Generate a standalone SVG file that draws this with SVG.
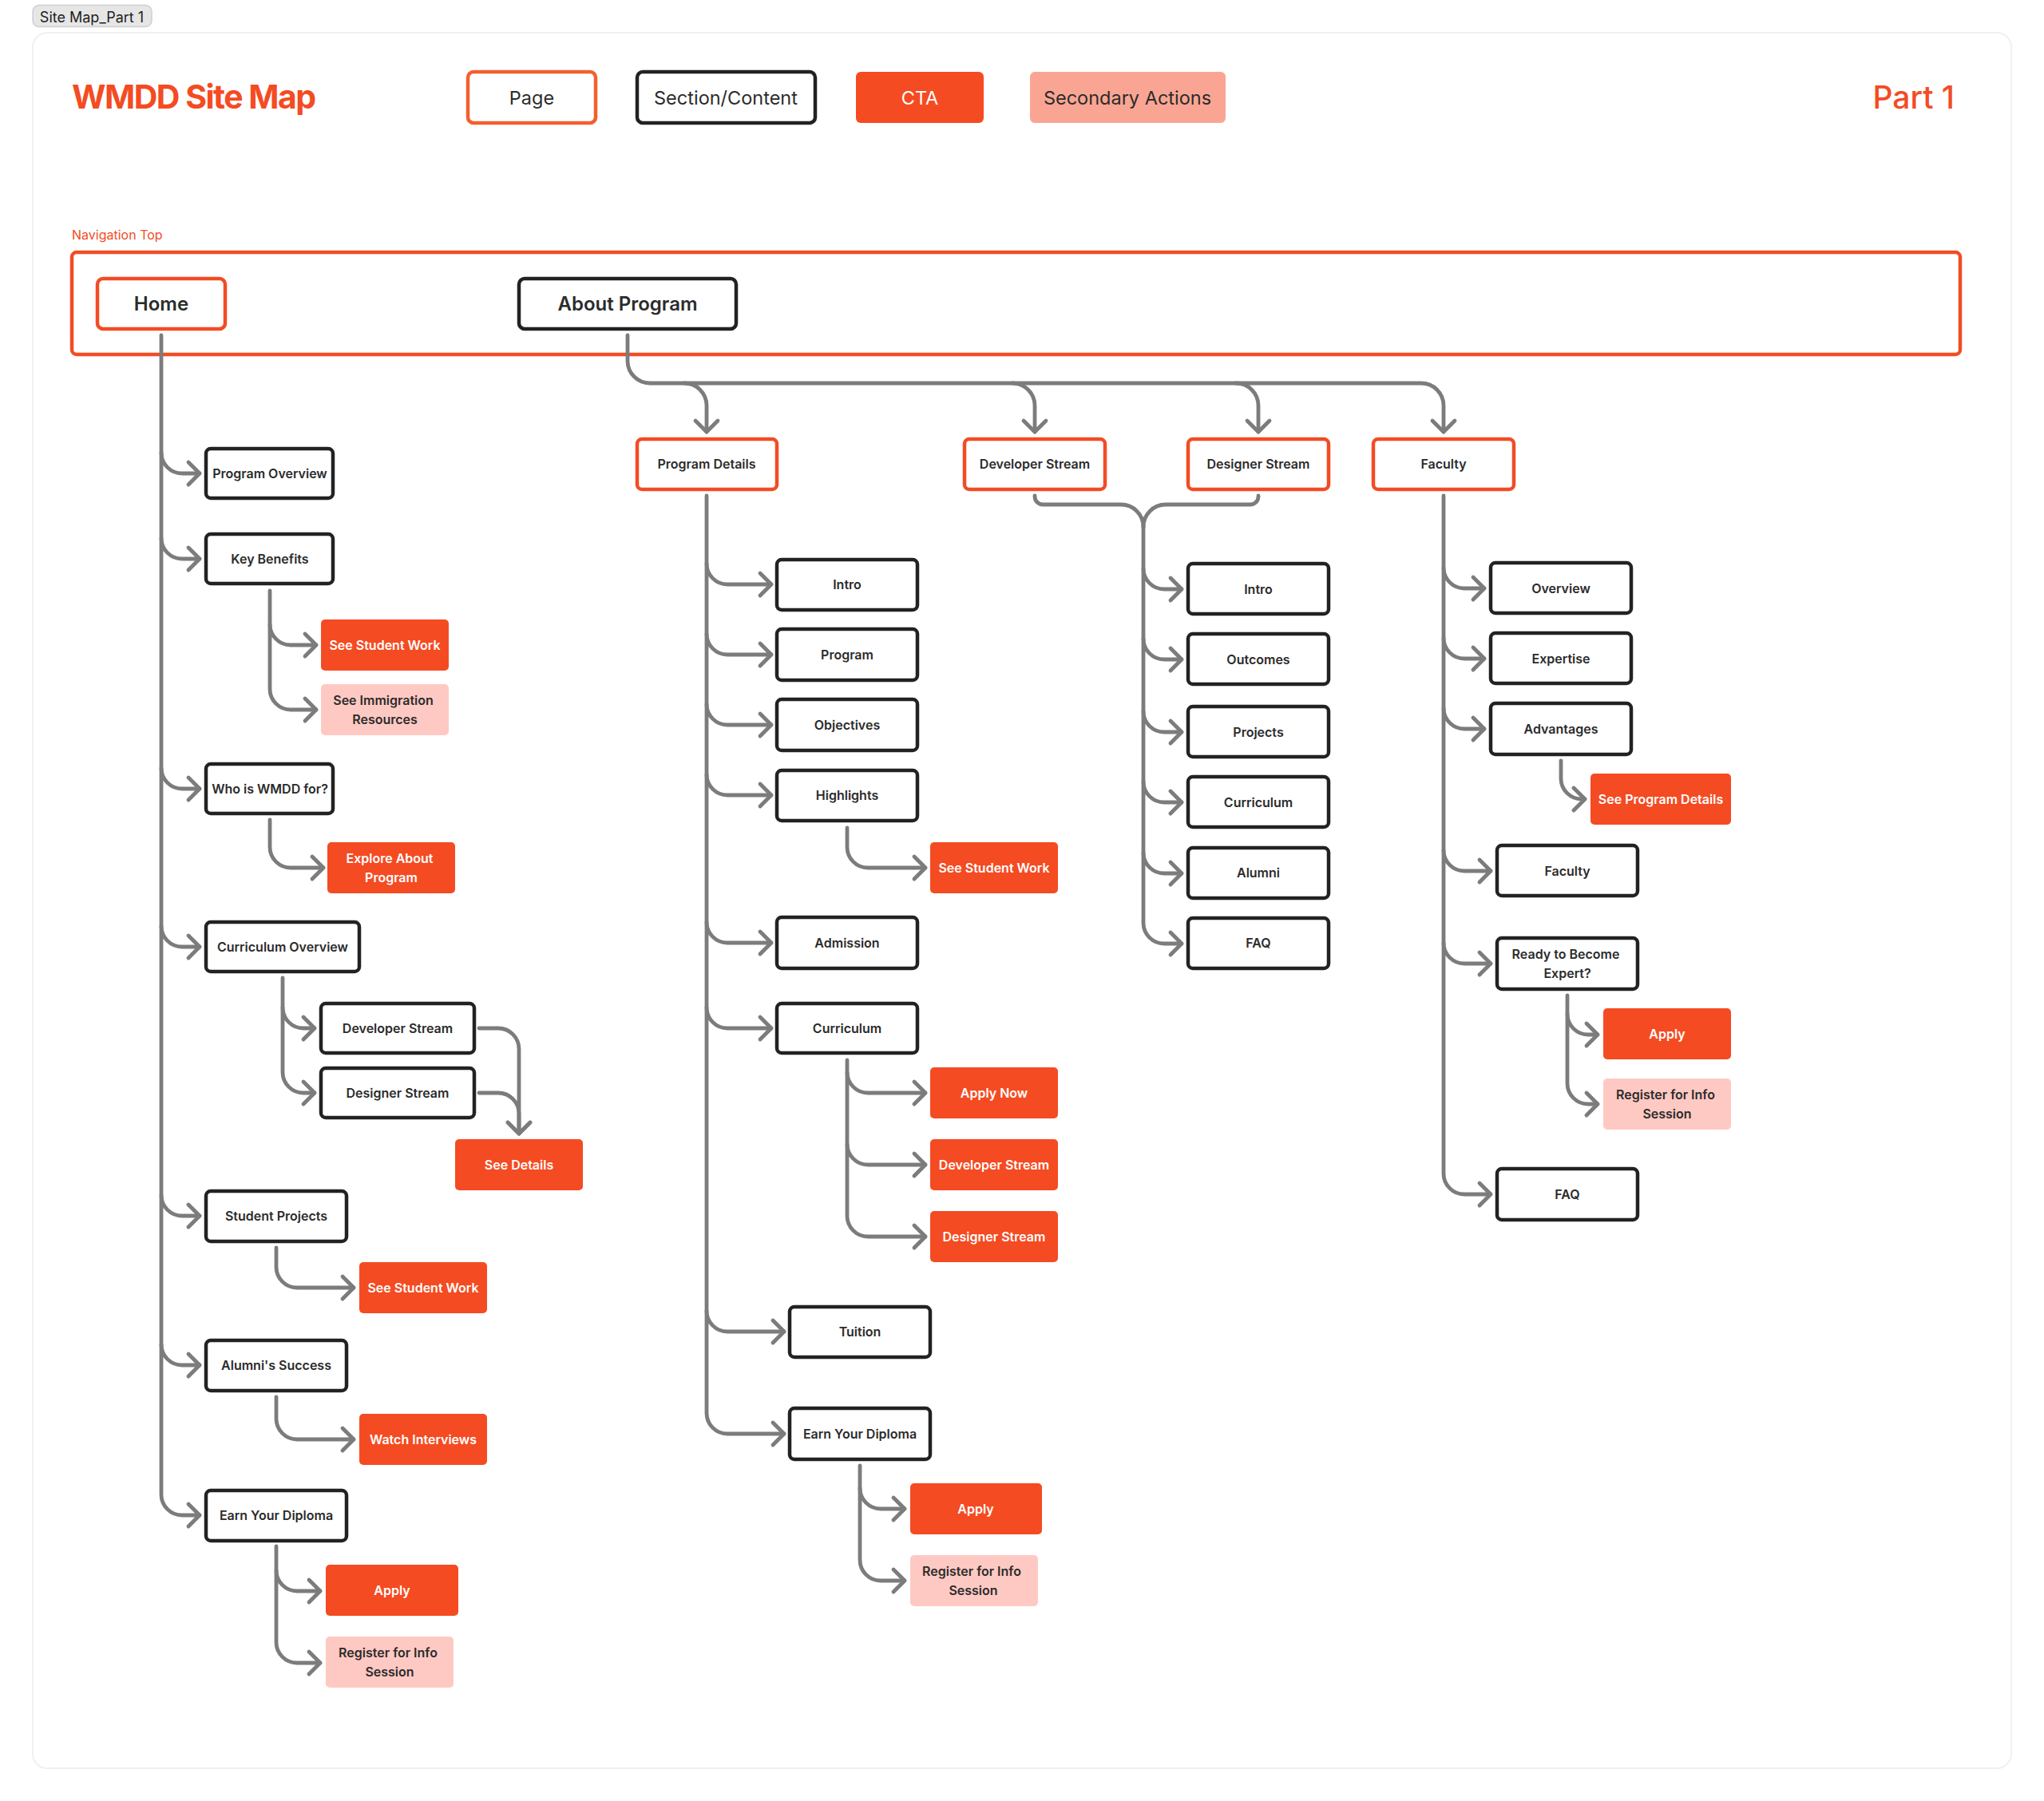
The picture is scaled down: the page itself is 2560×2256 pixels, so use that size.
<svg xmlns="http://www.w3.org/2000/svg" width="2560" height="2256" viewBox="0 0 2560 2256">
<style>
text{font-family:Inter,"Liberation Sans",sans-serif;text-anchor:middle;dominant-baseline:central}
.page,.sec{fill:#fff;stroke-width:4.5}
.page{stroke:#f24c24}
.sec{stroke:#222}
.cta{fill:#f44b22}
.sa{fill:#faa593}
.ls{fill:#ffc9c3}
.t{font-size:16px;font-weight:600;fill:#2b2b2b}
.tw{font-size:16px;font-weight:600;fill:#fff}
.lg{font-size:23.5px;font-weight:400;fill:#2b2b2b}
.nav{font-size:24px;font-weight:600;fill:#2b2b2b}
.c path{fill:none;stroke:#7c7c7c;stroke-width:4.8;stroke-linecap:round;stroke-linejoin:round}
.c path.a{marker-end:url(#ah)}
</style>
<defs>
<marker id="ah" markerUnits="userSpaceOnUse" markerWidth="40" markerHeight="40" refX="20" refY="20" orient="auto" overflow="visible"><path d="M6,6 L20,20 L6,34" fill="none" stroke="#7c7c7c" stroke-width="4.8" stroke-linecap="round" stroke-linejoin="round"/></marker>
</defs>
<rect width="2560" height="2256" fill="#fff"/>
<g id="frame"><rect x="41" y="41" width="2478" height="2174" rx="18" fill="#fff" stroke="#f0f0f0" stroke-width="2"/></g>
<g id="tab"><rect x="41" y="6.500" width="149" height="27" rx="8" fill="#e6e6e6" stroke="#cfcfcf" stroke-width="1.500"/><text x="115" y="21" style="font-size:18px;font-weight:400;fill:#1e1e1e">Site Map_Part 1</text></g>
<g id="title"><text x="90" y="121" style="text-anchor:start;font-size:41px;font-weight:700;fill:#f44b22;letter-spacing:-1.500px">WMDD Site Map</text></g>
<g id="part"><text x="2448" y="121" style="text-anchor:end;font-size:39px;font-weight:500;fill:#f24c24">Part 1</text></g>
<g id="legend-page"><rect class="page" x="586" y="90" width="160" height="64" rx="7" style="stroke:#f2602e"/><text class="lg" x="666" y="122">Page</text></g>
<g id="legend-section"><rect class="sec" x="798" y="90" width="223" height="64" rx="7"/><text class="lg" x="909" y="122">Section/Content</text></g>
<g id="legend-cta"><rect class="cta" x="1072" y="90" width="160" height="64" rx="6"/><text class="lg" x="1152" y="122" style="fill:#fff">CTA</text></g>
<g id="legend-secondary"><rect class="sa" x="1290" y="90" width="245" height="64" rx="6"/><text class="lg" x="1412" y="122">Secondary Actions</text></g>
<g id="nav-label"><text x="90" y="294" style="text-anchor:start;font-size:16px;font-weight:400;fill:#f24c24">Navigation Top</text></g>
<g id="nav-top"><rect x="90" y="316" width="2365" height="128" rx="6" fill="#fff" stroke="#f24c24" stroke-width="4.500"/></g>
<g id="home"><rect class="page" x="122" y="349" width="160" height="63" rx="7"/><text class="nav" x="202" y="380">Home</text></g>
<g id="about"><rect class="sec" x="650" y="349" width="272" height="63" rx="7"/><text class="nav" x="786" y="380">About Program</text></g>
<g class="c" id="connectors">
<path d="M202 420V1872A26 26 0 0 0 228 1898H250" class="a"/>
<path d="M202 567A26 26 0 0 0 228 593H250" class="a"/>
<path d="M202 674A26 26 0 0 0 228 700H250" class="a"/>
<path d="M202 962A26 26 0 0 0 228 988H250" class="a"/>
<path d="M202 1160A26 26 0 0 0 228 1186H250" class="a"/>
<path d="M202 1497A26 26 0 0 0 228 1523H250" class="a"/>
<path d="M202 1684A26 26 0 0 0 228 1710H250" class="a"/>
<path d="M786 420V452A28 28 0 0 0 814 480H1780A28 28 0 0 1 1808 508V541" class="a"/>
<path d="M857 480A28 28 0 0 1 885 508V541" class="a"/>
<path d="M1268 480A28 28 0 0 1 1296 508V541" class="a"/>
<path d="M1548 480A28 28 0 0 1 1576 508V541" class="a"/>
<path d="M338 740V863A26 26 0 0 0 364 889H396" class="a"/>
<path d="M338 782A26 26 0 0 0 364 808H396" class="a"/>
<path d="M338 1027V1061A26 26 0 0 0 364 1087H405" class="a"/>
<path d="M354 1225V1343A26 26 0 0 0 380 1369H394" class="a"/>
<path d="M354 1262A26 26 0 0 0 380 1288H394" class="a"/>
<path d="M600 1288H624A26 26 0 0 1 650 1314V1420" class="a"/>
<path d="M600 1369H624A26 26 0 0 1 650 1395V1420" class="a"/>
<path d="M346 1563V1587A26 26 0 0 0 372 1613H443" class="a"/>
<path d="M346 1750V1777A26 26 0 0 0 372 1803H443" class="a"/>
<path d="M346 1937V2057A26 26 0 0 0 372 2083H401" class="a"/>
<path d="M346 1967A26 26 0 0 0 372 1993H401" class="a"/>
<path d="M885 621V1770A26 26 0 0 0 911 1796H982" class="a"/>
<path d="M885 706A26 26 0 0 0 911 732H966" class="a"/>
<path d="M885 794A26 26 0 0 0 911 820H966" class="a"/>
<path d="M885 882A26 26 0 0 0 911 908H966" class="a"/>
<path d="M885 970A26 26 0 0 0 911 996H966" class="a"/>
<path d="M885 1155A26 26 0 0 0 911 1181H966" class="a"/>
<path d="M885 1262A26 26 0 0 0 911 1288H966" class="a"/>
<path d="M885 1642A26 26 0 0 0 911 1668H982" class="a"/>
<path d="M1061 1037V1061A26 26 0 0 0 1087 1087H1159" class="a"/>
<path d="M1061 1328V1523A26 26 0 0 0 1087 1549H1159" class="a"/>
<path d="M1061 1343A26 26 0 0 0 1087 1369H1159" class="a"/>
<path d="M1061 1433A26 26 0 0 0 1087 1459H1159" class="a"/>
<path d="M1077 1836V1954A26 26 0 0 0 1103 1980H1133" class="a"/>
<path d="M1077 1864A26 26 0 0 0 1103 1890H1133" class="a"/>
<path d="M1296 621V622A10 10 0 0 0 1306 632H1404A28 28 0 0 1 1432 660"/>
<path d="M1576 621V622A10 10 0 0 1 1566 632H1460A28 28 0 0 0 1432 660"/>
<path d="M1432 660V1156A26 26 0 0 0 1458 1182H1480" class="a"/>
<path d="M1432 712A26 26 0 0 0 1458 738H1480" class="a"/>
<path d="M1432 800A26 26 0 0 0 1458 826H1480" class="a"/>
<path d="M1432 891A26 26 0 0 0 1458 917H1480" class="a"/>
<path d="M1432 979A26 26 0 0 0 1458 1005H1480" class="a"/>
<path d="M1432 1068A26 26 0 0 0 1458 1094H1480" class="a"/>
<path d="M1808 621V1470A26 26 0 0 0 1834 1496H1867" class="a"/>
<path d="M1808 711A26 26 0 0 0 1834 737H1859" class="a"/>
<path d="M1808 799A26 26 0 0 0 1834 825H1859" class="a"/>
<path d="M1808 887A26 26 0 0 0 1834 913H1859" class="a"/>
<path d="M1808 1065A26 26 0 0 0 1834 1091H1867" class="a"/>
<path d="M1808 1181A26 26 0 0 0 1834 1207H1867" class="a"/>
<path d="M1955 953V975A26 26 0 0 0 1981 1001H1985" class="a"/>
<path d="M1963 1247V1357A26 26 0 0 0 1989 1383H2001" class="a"/>
<path d="M1963 1270A26 26 0 0 0 1989 1296H2001" class="a"/>
</g>
<g id="n-program-overview"><rect class="sec" x="258" y="562" width="159" height="62" rx="6"/><text class="t" x="338" y="593">Program Overview</text></g>
<g id="n-key-benefits"><rect class="sec" x="258" y="669" width="159" height="62" rx="6"/><text class="t" x="338" y="700">Key Benefits</text></g>
<g id="n-see-student-work-1"><rect class="cta" x="402" y="776" width="160" height="64" rx="5"/><text class="tw" x="482" y="808">See Student Work</text></g>
<g id="n-see-immigration"><rect class="ls" x="402" y="857" width="160" height="64" rx="5"/><text class="t" x="480" y="877">See Immigration</text><text class="t" x="482" y="901">Resources</text></g>
<g id="n-who"><rect class="sec" x="258" y="957" width="159" height="62" rx="6"/><text class="t" x="338" y="988">Who is WMDD for?</text></g>
<g id="n-explore"><rect class="cta" x="410" y="1055" width="160" height="64" rx="5"/><text class="tw" x="488" y="1075">Explore About</text><text class="tw" x="490" y="1099">Program</text></g>
<g id="n-curriculum-overview"><rect class="sec" x="258" y="1155" width="192" height="62" rx="6"/><text class="t" x="354" y="1186">Curriculum Overview</text></g>
<g id="n-developer-1"><rect class="sec" x="402" y="1257" width="192" height="62" rx="6"/><text class="t" x="498" y="1288">Developer Stream</text></g>
<g id="n-designer-1"><rect class="sec" x="402" y="1338" width="192" height="62" rx="6"/><text class="t" x="498" y="1369">Designer Stream</text></g>
<g id="n-see-details"><rect class="cta" x="570" y="1427" width="160" height="64" rx="5"/><text class="tw" x="650" y="1459">See Details</text></g>
<g id="n-student-projects"><rect class="sec" x="258" y="1492" width="176" height="63" rx="6"/><text class="t" x="346" y="1523">Student Projects</text></g>
<g id="n-see-student-work-2"><rect class="cta" x="450" y="1581" width="160" height="64" rx="5"/><text class="tw" x="530" y="1613">See Student Work</text></g>
<g id="n-alumni-success"><rect class="sec" x="258" y="1679" width="176" height="63" rx="6"/><text class="t" x="346" y="1710">Alumni's Success</text></g>
<g id="n-watch"><rect class="cta" x="450" y="1771" width="160" height="64" rx="5"/><text class="tw" x="530" y="1803">Watch Interviews</text></g>
<g id="n-earn-1"><rect class="sec" x="258" y="1867" width="176" height="63" rx="6"/><text class="t" x="346" y="1898">Earn Your Diploma</text></g>
<g id="n-apply-1"><rect class="cta" x="408" y="1960" width="166" height="64" rx="5"/><text class="tw" x="491" y="1992">Apply</text></g>
<g id="n-register-1"><rect class="ls" x="408" y="2050" width="160" height="64" rx="5"/><text class="t" x="486" y="2070">Register for Info</text><text class="t" x="488" y="2094">Session</text></g>
<g id="n-program-details"><rect class="page" x="798" y="550" width="175" height="63" rx="6"/><text class="t" x="885" y="581">Program Details</text></g>
<g id="n-developer-stream"><rect class="page" x="1208" y="550" width="176" height="63" rx="6"/><text class="t" x="1296" y="581">Developer Stream</text></g>
<g id="n-designer-stream"><rect class="page" x="1488" y="550" width="176" height="63" rx="6"/><text class="t" x="1576" y="581">Designer Stream</text></g>
<g id="n-faculty"><rect class="page" x="1720" y="550" width="176" height="63" rx="6"/><text class="t" x="1808" y="581">Faculty</text></g>
<g id="n-intro-1"><rect class="sec" x="973" y="701" width="176" height="63" rx="6"/><text class="t" x="1061" y="732">Intro</text></g>
<g id="n-program"><rect class="sec" x="973" y="788" width="176" height="64" rx="6"/><text class="t" x="1061" y="820">Program</text></g>
<g id="n-objectives"><rect class="sec" x="973" y="876" width="176" height="64" rx="6"/><text class="t" x="1061" y="908">Objectives</text></g>
<g id="n-highlights"><rect class="sec" x="973" y="965" width="176" height="63" rx="6"/><text class="t" x="1061" y="996">Highlights</text></g>
<g id="n-see-student-work-3"><rect class="cta" x="1165" y="1055" width="160" height="64" rx="5"/><text class="tw" x="1245" y="1087">See Student Work</text></g>
<g id="n-admission"><rect class="sec" x="973" y="1149" width="176" height="64" rx="6"/><text class="t" x="1061" y="1181">Admission</text></g>
<g id="n-curriculum-1"><rect class="sec" x="973" y="1257" width="176" height="62" rx="6"/><text class="t" x="1061" y="1288">Curriculum</text></g>
<g id="n-apply-now"><rect class="cta" x="1165" y="1337" width="160" height="64" rx="5"/><text class="tw" x="1245" y="1369">Apply Now</text></g>
<g id="n-developer-2"><rect class="cta" x="1165" y="1427" width="160" height="64" rx="5"/><text class="tw" x="1245" y="1459">Developer Stream</text></g>
<g id="n-designer-2"><rect class="cta" x="1165" y="1517" width="160" height="64" rx="5"/><text class="tw" x="1245" y="1549">Designer Stream</text></g>
<g id="n-tuition"><rect class="sec" x="989" y="1637" width="176" height="63" rx="6"/><text class="t" x="1077" y="1668">Tuition</text></g>
<g id="n-earn-2"><rect class="sec" x="989" y="1764" width="176" height="64" rx="6"/><text class="t" x="1077" y="1796">Earn Your Diploma</text></g>
<g id="n-apply-2"><rect class="cta" x="1140" y="1858" width="165" height="64" rx="5"/><text class="tw" x="1222" y="1890">Apply</text></g>
<g id="n-register-2"><rect class="ls" x="1140" y="1948" width="160" height="64" rx="5"/><text class="t" x="1217" y="1968">Register for Info</text><text class="t" x="1219" y="1992">Session</text></g>
<g id="n-intro-2"><rect class="sec" x="1488" y="706" width="176" height="63" rx="6"/><text class="t" x="1576" y="738">Intro</text></g>
<g id="n-outcomes"><rect class="sec" x="1488" y="794" width="176" height="63" rx="6"/><text class="t" x="1576" y="826">Outcomes</text></g>
<g id="n-projects"><rect class="sec" x="1488" y="885" width="176" height="63" rx="6"/><text class="t" x="1576" y="917">Projects</text></g>
<g id="n-curriculum-2"><rect class="sec" x="1488" y="973" width="176" height="63" rx="6"/><text class="t" x="1576" y="1005">Curriculum</text></g>
<g id="n-alumni"><rect class="sec" x="1488" y="1062" width="176" height="63" rx="6"/><text class="t" x="1576" y="1093">Alumni</text></g>
<g id="n-faq-1"><rect class="sec" x="1488" y="1150" width="176" height="63" rx="6"/><text class="t" x="1576" y="1181">FAQ</text></g>
<g id="n-overview"><rect class="sec" x="1867" y="705" width="176" height="63" rx="6"/><text class="t" x="1955" y="737">Overview</text></g>
<g id="n-expertise"><rect class="sec" x="1867" y="793" width="176" height="63" rx="6"/><text class="t" x="1955" y="825">Expertise</text></g>
<g id="n-advantages"><rect class="sec" x="1867" y="881" width="176" height="64" rx="6"/><text class="t" x="1955" y="913">Advantages</text></g>
<g id="n-see-program-details"><rect class="cta" x="1992" y="969" width="176" height="64" rx="5"/><text class="tw" x="2080" y="1001">See Program Details</text></g>
<g id="n-faculty-2"><rect class="sec" x="1875" y="1059" width="176" height="63" rx="6"/><text class="t" x="1963" y="1091">Faculty</text></g>
<g id="n-ready"><rect class="sec" x="1875" y="1175" width="176" height="64" rx="6"/><text class="t" x="1961" y="1195">Ready to Become</text><text class="t" x="1963" y="1219">Expert?</text></g>
<g id="n-apply-3"><rect class="cta" x="2008" y="1263" width="160" height="64" rx="5"/><text class="tw" x="2088" y="1295">Apply</text></g>
<g id="n-register-3"><rect class="ls" x="2008" y="1351" width="160" height="64" rx="5"/><text class="t" x="2086" y="1371">Register for Info</text><text class="t" x="2088" y="1395">Session</text></g>
<g id="n-faq-2"><rect class="sec" x="1875" y="1464" width="176" height="64" rx="6"/><text class="t" x="1963" y="1496">FAQ</text></g>
</svg>
